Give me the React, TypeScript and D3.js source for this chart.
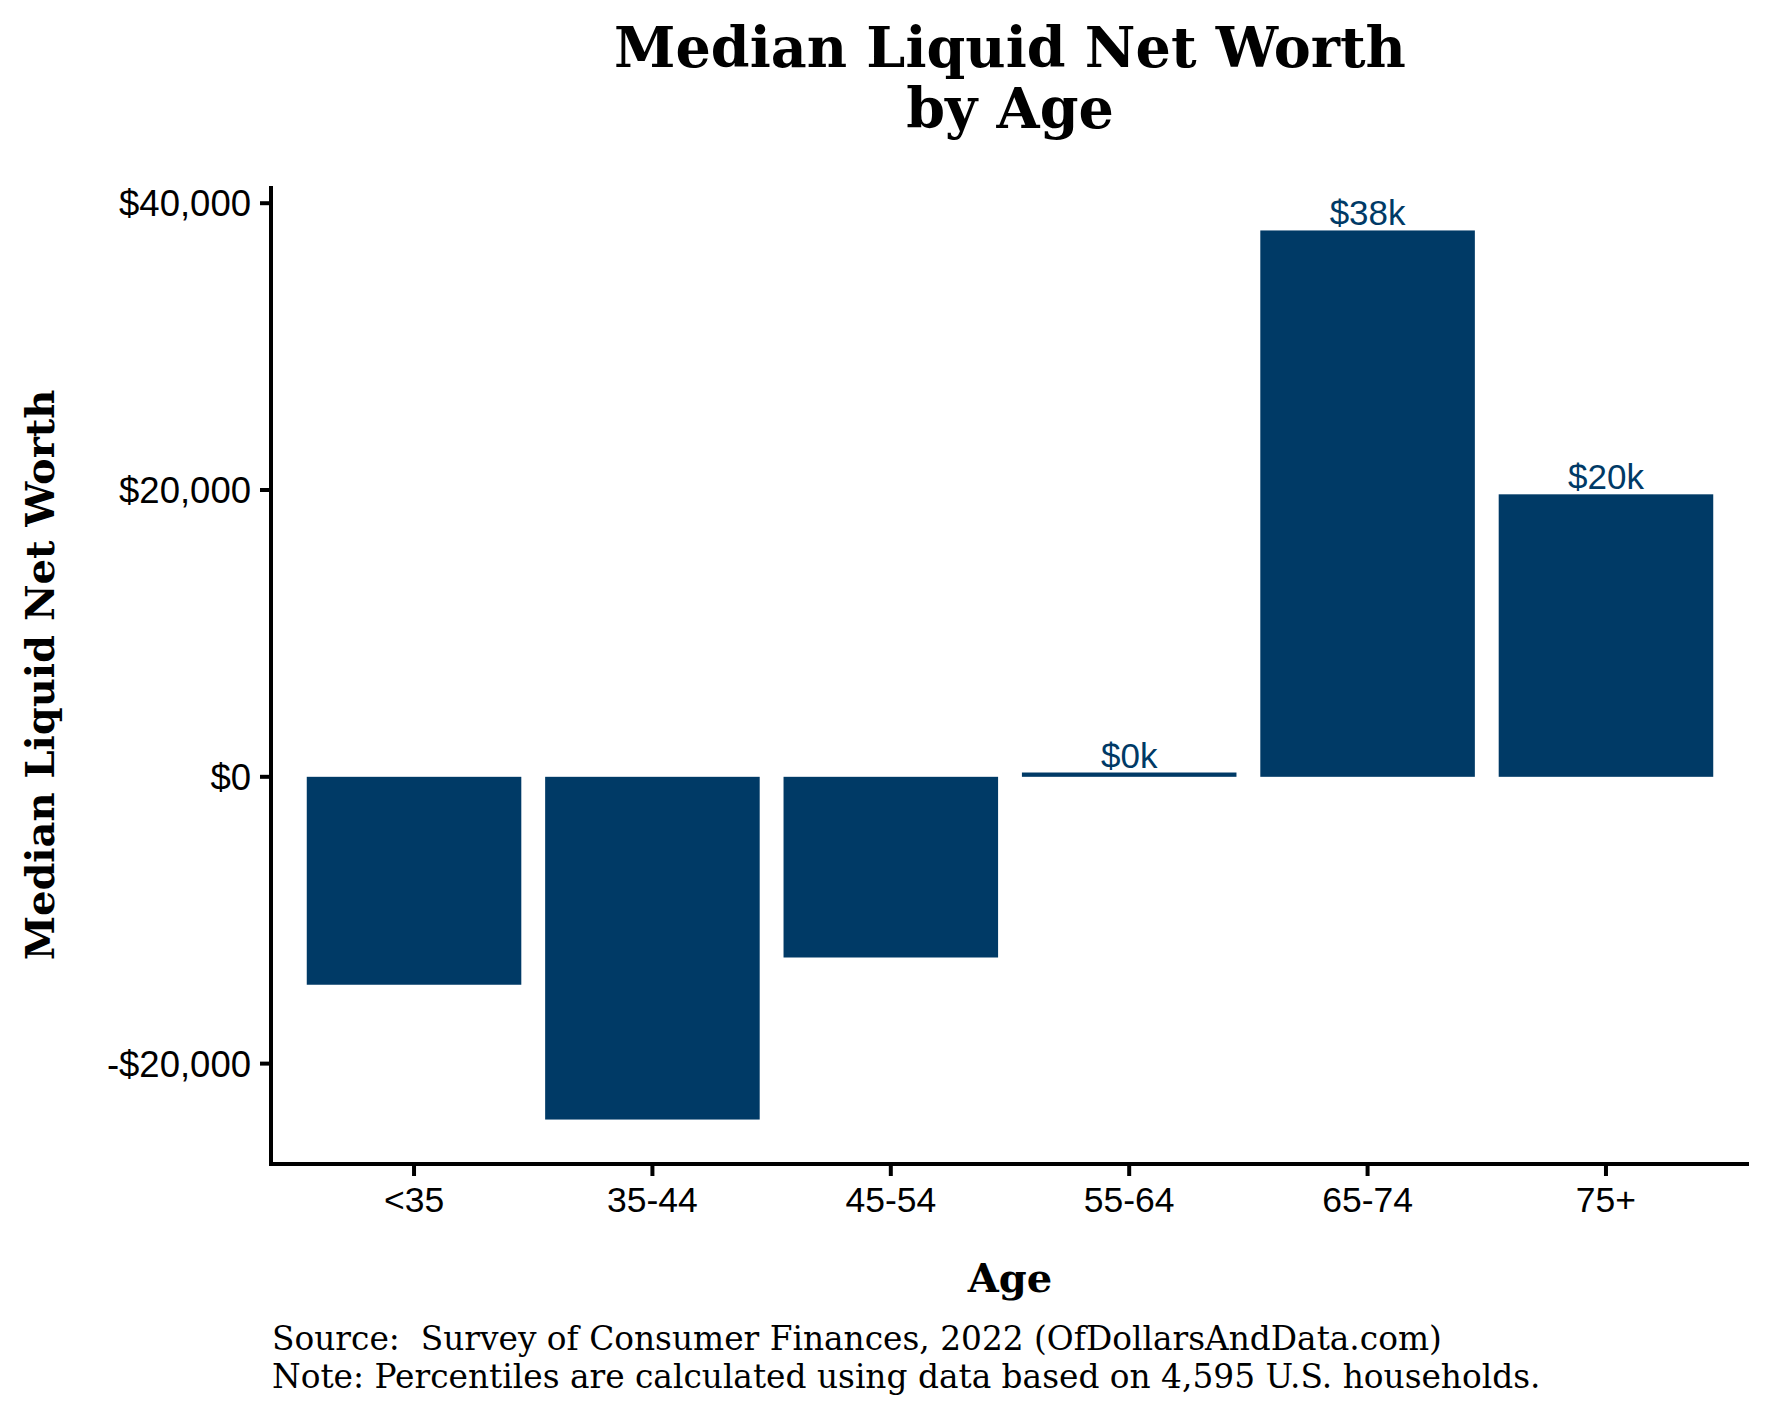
import React from "react";
import * as d3 from "d3";

const categories = ["<35", "35-44", "45-54", "55-64", "65-74", "75+"];
const values = [-14500, -23900, -12600, 300, 38100, 19700];
const yTicks = [-20000, 0, 20000, 40000];
const labelText = ["", "", "", "$0k", "$38k", "$20k"];

const W = 1771;
const H = 1417;
const BAR = "#003A66";
const SERIF = "'DejaVu Serif', 'Liberation Serif', serif";
const SANS = "'Liberation Sans', Arial, Helvetica, sans-serif";

export default function App() {
  const left = 271;
  const right = 1749;
  const top = 186;
  const bottom = 1164;

  const x = d3
    .scaleBand<string>()
    .domain(categories)
    .range([left, right])
    .paddingInner(0.1)
    .paddingOuter(0.15);

  const minV = d3.min(values) as number;
  const maxV = d3.max(values) as number;
  const pad = (maxV - minV) * 0.05;
  const y = d3
    .scaleLinear()
    .domain([minV - pad, maxV + pad])
    .range([bottom, top]);

  const fmt = (v: number) =>
    (v < 0 ? "-" : "") + "$" + d3.format(",")(Math.abs(v));

  const cx = (left + right) / 2;

  return (
    <svg
      width={W}
      height={H}
      style={{ position: "absolute", left: 0, top: 0, background: "#fff" }}
    >
      <rect x={0} y={0} width={W} height={H} fill="#fff" />
      {/* title */}
      <text
        x={cx}
        y={67}
        textAnchor="middle"
        fontFamily={SERIF}
        fontWeight="bold"
        fontSize={55.5}
        fill="#000"
      >
        Median Liquid Net Worth
      </text>
      <text
        x={cx}
        y={128}
        textAnchor="middle"
        fontFamily={SERIF}
        fontWeight="bold"
        fontSize={55.5}
        fill="#000"
      >
        by Age
      </text>

      {/* bars */}
      {categories.map((c, i) => {
        const v = values[i];
        const y0 = y(0);
        const y1 = y(v);
        return (
          <rect
            key={c}
            x={x(c)}
            width={x.bandwidth()}
            y={Math.min(y0, y1)}
            height={Math.abs(y1 - y0)}
            fill={BAR}
          />
        );
      })}

      {/* bar labels */}
      {categories.map((c, i) =>
        labelText[i] ? (
          <text
            key={"l" + c}
            x={(x(c) as number) + x.bandwidth() / 2}
            y={y(values[i]) - 5}
            textAnchor="middle"
            fontFamily={SANS}
            fontSize={35}
            fill={BAR}
          >
            {labelText[i]}
          </text>
        ) : null
      )}

      {/* axes */}
      <line x1={left} x2={left} y1={top} y2={bottom} stroke="#000" strokeWidth={4} />
      <line x1={left - 2} x2={right} y1={bottom} y2={bottom} stroke="#000" strokeWidth={4} />

      {yTicks.map((t) => (
        <g key={"yt" + t}>
          <line x1={left - 11} x2={left} y1={y(t)} y2={y(t)} stroke="#000" strokeWidth={4} />
          <text
            x={251}
            y={y(t)}
            dy="0.36em"
            textAnchor="end"
            fontFamily={SANS}
            fontSize={36.5}
            fill="#000"
          >
            {fmt(t)}
          </text>
        </g>
      ))}

      {categories.map((c) => {
        const xc = (x(c) as number) + x.bandwidth() / 2;
        return (
          <g key={"xt" + c}>
            <line x1={xc} x2={xc} y1={bottom} y2={bottom + 12} stroke="#000" strokeWidth={4} />
            <text
              x={xc}
              y={1212}
              textAnchor="middle"
              fontFamily={SANS}
              fontSize={35.5}
              fill="#000"
            >
              {c}
            </text>
          </g>
        );
      })}

      {/* axis titles */}
      <text
        x={cx}
        y={1292}
        textAnchor="middle"
        fontFamily={SERIF}
        fontWeight="bold"
        fontSize={40}
        fill="#000"
      >
        Age
      </text>
      <text
        transform={`translate(54, ${(top + bottom) / 2}) rotate(-90)`}
        textAnchor="middle"
        fontFamily={SERIF}
        fontWeight="bold"
        fontSize={40}
        fill="#000"
      >
        Median Liquid Net Worth
      </text>

      {/* caption */}
      <text x={272} y={1350} fontFamily={SERIF} fontSize={32.8} fill="#000" xmlSpace="preserve">
        Source:  Survey of Consumer Finances, 2022 (OfDollarsAndData.com)
      </text>
      <text x={272} y={1388} fontFamily={SERIF} fontSize={32.8} fill="#000">
        Note: Percentiles are calculated using data based on 4,595 U.S. households.
      </text>
    </svg>
  );
}
